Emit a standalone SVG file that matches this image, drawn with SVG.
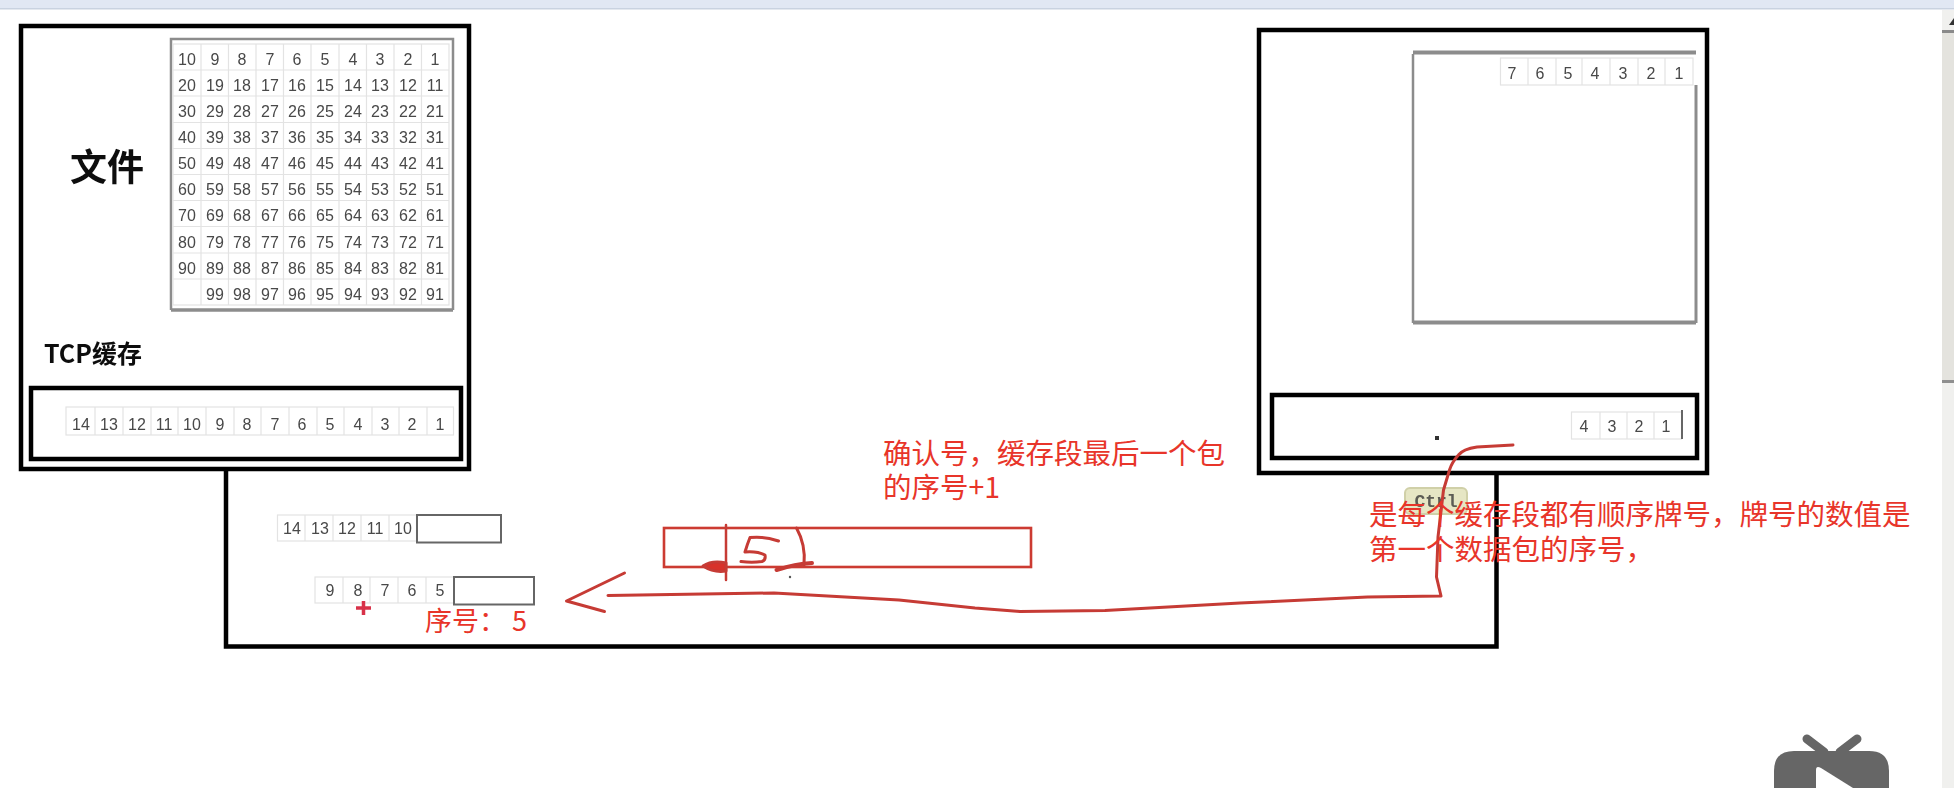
<svg xmlns="http://www.w3.org/2000/svg" width="1954" height="788" viewBox="0 0 1954 788">
<defs>
<filter id="soft" x="-5%" y="-5%" width="110%" height="110%"><feGaussianBlur stdDeviation="0.55"/></filter>
</defs>
<style>
.frame{fill:none;stroke:#000;stroke-width:4.5}
.cell{fill:#fff;stroke:#e3e3e3;stroke-width:1.2}
.rule{fill:none;stroke:#e3e3e3;stroke-width:1.2}
.tb{fill:none;stroke:#8c8c8c}
.num{font-family:"Liberation Sans",sans-serif;font-size:16px;fill:#484848;text-anchor:middle}
.box{fill:#fff;stroke:#666;stroke-width:2}
.note{font-family:"Noto Sans CJK SC","Liberation Sans",sans-serif;font-size:28.5px;fill:#e8352a}
.title{font-family:"Noto Sans CJK SC","Liberation Sans",sans-serif;font-weight:700;fill:#111}
.ink{fill:none;stroke:#c63a34;stroke-width:3;stroke-linecap:round;stroke-linejoin:round}
</style>
<rect width="1954" height="788" fill="#fff"/>
<rect id="browser-bar" width="1954" height="8" fill="#e1e7f3"/>
<rect x="0" y="8" width="1954" height="1.500" fill="#c9d2e0"/>
<g id="scrollbar" filter="url(#soft)">
<rect x="1942" y="10" width="12" height="778" fill="#f0f0ee"/>
<rect x="1942" y="33" width="12" height="349" fill="#e4e3de"/>
<rect x="1942" y="30" width="12" height="3" fill="#8a8a8a"/>
<rect x="1942" y="380" width="12" height="3" fill="#8f8f8f"/>
<path d="M1954 18L1949 25H1954Z" fill="#333"/>
</g>
<g id="connector-frame" filter="url(#soft)">
<path class="frame" d="M226 469V646.500H1496.500V473"/>
</g>
<g id="file-sender" filter="url(#soft)">
<rect class="frame" x="21" y="26" width="448" height="443"/>
<text class="title" x="70" y="181" font-size="37">文件</text>
<text class="title" x="44" y="363" font-size="25">TCP缓存</text>
<rect class="frame" x="31" y="388" width="430" height="71"/>
<path class="tb" stroke-width="2.500" d="M171 310V39H453V310"/>
<path class="tb" stroke-width="3.500" d="M171 310H453"/>
<g id="file-table">
<rect class="cell" x="173" y="44" width="276" height="261"/>
<path class="rule" d="M201 44V305M228.500 44V305M256 44V305M283.500 44V305M311 44V305M339 44V305M366.500 44V305M394 44V305M421.500 44V305M173 70H449M173 96H449M173 122.500H449M173 148.500H449M173 174.500H449M173 200.500H449M173 226.500H449M173 253H449M173 279H449"/>
<text class="num" x="187" y="65">10</text><text class="num" x="215" y="65">9</text><text class="num" x="242" y="65">8</text><text class="num" x="270" y="65">7</text><text class="num" x="297" y="65">6</text><text class="num" x="325" y="65">5</text><text class="num" x="353" y="65">4</text><text class="num" x="380" y="65">3</text><text class="num" x="408" y="65">2</text><text class="num" x="435" y="65">1</text>
<text class="num" x="187" y="91">20</text><text class="num" x="215" y="91">19</text><text class="num" x="242" y="91">18</text><text class="num" x="270" y="91">17</text><text class="num" x="297" y="91">16</text><text class="num" x="325" y="91">15</text><text class="num" x="353" y="91">14</text><text class="num" x="380" y="91">13</text><text class="num" x="408" y="91">12</text><text class="num" x="435" y="91">11</text>
<text class="num" x="187" y="117">30</text><text class="num" x="215" y="117">29</text><text class="num" x="242" y="117">28</text><text class="num" x="270" y="117">27</text><text class="num" x="297" y="117">26</text><text class="num" x="325" y="117">25</text><text class="num" x="353" y="117">24</text><text class="num" x="380" y="117">23</text><text class="num" x="408" y="117">22</text><text class="num" x="435" y="117">21</text>
<text class="num" x="187" y="143">40</text><text class="num" x="215" y="143">39</text><text class="num" x="242" y="143">38</text><text class="num" x="270" y="143">37</text><text class="num" x="297" y="143">36</text><text class="num" x="325" y="143">35</text><text class="num" x="353" y="143">34</text><text class="num" x="380" y="143">33</text><text class="num" x="408" y="143">32</text><text class="num" x="435" y="143">31</text>
<text class="num" x="187" y="169">50</text><text class="num" x="215" y="169">49</text><text class="num" x="242" y="169">48</text><text class="num" x="270" y="169">47</text><text class="num" x="297" y="169">46</text><text class="num" x="325" y="169">45</text><text class="num" x="353" y="169">44</text><text class="num" x="380" y="169">43</text><text class="num" x="408" y="169">42</text><text class="num" x="435" y="169">41</text>
<text class="num" x="187" y="195">60</text><text class="num" x="215" y="195">59</text><text class="num" x="242" y="195">58</text><text class="num" x="270" y="195">57</text><text class="num" x="297" y="195">56</text><text class="num" x="325" y="195">55</text><text class="num" x="353" y="195">54</text><text class="num" x="380" y="195">53</text><text class="num" x="408" y="195">52</text><text class="num" x="435" y="195">51</text>
<text class="num" x="187" y="221">70</text><text class="num" x="215" y="221">69</text><text class="num" x="242" y="221">68</text><text class="num" x="270" y="221">67</text><text class="num" x="297" y="221">66</text><text class="num" x="325" y="221">65</text><text class="num" x="353" y="221">64</text><text class="num" x="380" y="221">63</text><text class="num" x="408" y="221">62</text><text class="num" x="435" y="221">61</text>
<text class="num" x="187" y="248">80</text><text class="num" x="215" y="248">79</text><text class="num" x="242" y="248">78</text><text class="num" x="270" y="248">77</text><text class="num" x="297" y="248">76</text><text class="num" x="325" y="248">75</text><text class="num" x="353" y="248">74</text><text class="num" x="380" y="248">73</text><text class="num" x="408" y="248">72</text><text class="num" x="435" y="248">71</text>
<text class="num" x="187" y="274">90</text><text class="num" x="215" y="274">89</text><text class="num" x="242" y="274">88</text><text class="num" x="270" y="274">87</text><text class="num" x="297" y="274">86</text><text class="num" x="325" y="274">85</text><text class="num" x="353" y="274">84</text><text class="num" x="380" y="274">83</text><text class="num" x="408" y="274">82</text><text class="num" x="435" y="274">81</text>
<text class="num" x="215" y="300">99</text><text class="num" x="242" y="300">98</text><text class="num" x="270" y="300">97</text><text class="num" x="297" y="300">96</text><text class="num" x="325" y="300">95</text><text class="num" x="353" y="300">94</text><text class="num" x="380" y="300">93</text><text class="num" x="408" y="300">92</text><text class="num" x="435" y="300">91</text>
</g>
<g id="send-buffer">
<rect class="cell" x="66" y="407" width="387.500" height="28"/>
<path class="rule" d="M95 407V435M123 407V435M151 407V435M178 407V435M206 407V435M234 407V435M261 407V435M289 407V435M317 407V435M344 407V435M372 407V435M399 407V435M427 407V435"/>
<text class="num" x="81" y="430">14</text><text class="num" x="109" y="430">13</text><text class="num" x="137" y="430">12</text><text class="num" x="164" y="430">11</text><text class="num" x="192" y="430">10</text><text class="num" x="220" y="430">9</text><text class="num" x="247" y="430">8</text><text class="num" x="275" y="430">7</text><text class="num" x="302" y="430">6</text><text class="num" x="330" y="430">5</text><text class="num" x="358" y="430">4</text><text class="num" x="385" y="430">3</text><text class="num" x="412" y="430">2</text><text class="num" x="440" y="430">1</text>
</g>
</g>
<g id="segment-a" filter="url(#soft)">
<rect class="cell" x="277.500" y="515" width="139" height="26"/>
<path class="rule" d="M305 515V541M333 515V541M361 515V541M389 515V541"/>
<text class="num" x="292" y="534">14</text><text class="num" x="320" y="534">13</text><text class="num" x="347" y="534">12</text><text class="num" x="375" y="534">11</text><text class="num" x="403" y="534">10</text>
<rect class="box" x="417" y="515" width="84" height="27.500"/>
</g>
<g id="segment-b">
<g filter="url(#soft)">
<rect class="cell" x="315" y="577" width="139" height="26"/>
<path class="rule" d="M343 577V603M370 577V603M398 577V603M426 577V603"/>
<text class="num" x="330" y="596">9</text><text class="num" x="358" y="596">8</text><text class="num" x="385" y="596">7</text><text class="num" x="412" y="596">6</text><text class="num" x="440" y="596">5</text>
<rect class="box" x="454" y="577" width="80" height="27.500"/>
</g>
<text class="note" x="425" y="631" style="font-size:27px">序号： 5</text>
</g>
<g id="file-receiver" filter="url(#soft)">
<rect class="frame" x="1259" y="30" width="448" height="443"/>
<path class="tb" stroke-width="2.500" d="M1413 323V54"/>
<path class="tb" stroke-width="4" d="M1413 52.500H1696M1413 322.500H1696"/>
<path class="tb" stroke-width="3" d="M1696 85V323"/>
<rect class="cell" x="1500.500" y="58" width="192.500" height="27"/>
<path class="rule" d="M1528 58V85M1556 58V85M1582 58V85M1610 58V85M1638 58V85M1665 58V85"/>
<text class="num" x="1512" y="79">7</text><text class="num" x="1540" y="79">6</text><text class="num" x="1568" y="79">5</text><text class="num" x="1595" y="79">4</text><text class="num" x="1623" y="79">3</text><text class="num" x="1651" y="79">2</text><text class="num" x="1679" y="79">1</text>
<rect class="frame" x="1272" y="395" width="425" height="63"/>
<rect class="cell" x="1571.500" y="412" width="110" height="27"/>
<path class="rule" d="M1600 412V439M1627 412V439M1654 412V439"/>
<path d="M1682 410V439" stroke="#666" stroke-width="2"/>
<text class="num" x="1584" y="432">4</text><text class="num" x="1612" y="432">3</text><text class="num" x="1639" y="432">2</text><text class="num" x="1666" y="432">1</text>
<rect x="1435" y="436" width="4" height="4" fill="#333"/>
</g>
<g id="ctrl-hint" filter="url(#soft)">
<rect x="1405" y="488" width="62" height="26" rx="5" fill="#e6e6c4" stroke="#d0d0a8" stroke-width="2"/>
<text x="1436" y="507" font-family="Liberation Mono, monospace" font-size="18" font-weight="700" fill="#5c5c54" text-anchor="middle">Ctrl</text>
</g>
<g id="ack-field" filter="url(#soft)">
<rect x="664" y="528" width="367" height="39" fill="none" stroke="#cc3a33" stroke-width="2.600"/>
</g>
<g id="connectors" filter="url(#soft)">
<path class="ink" d="M726 525V580" style="stroke-width:2.500"/>
<path class="ink" d="M703 566Q712 560 726 563V571Q714 573 703 566Z" style="fill:#d8302a"/>
<path class="ink" d="M796.500 528Q806 545 804 565"/>
<path class="ink" d="M776.500 570Q795 564 812 563" style="stroke-width:4"/>
<path class="ink" d="M778.500 541Q765 536 750 537.500Q747 545 745 552Q757 551 765 555Q766 560 762 561.500Q752 563 741 561.500"/>
<circle cx="790" cy="577" r="1.200" fill="#555"/>
<path class="ink" d="M1513 445L1477 447Q1463 449 1458.500 455Q1452 462 1449.500 470L1443.500 490L1438 537L1436.500 577L1441 596L1367.500 597L1240 603L1105 610.500L1020 611.500L975 608L899 600L774 593L608 595.500"/>
<path class="ink" d="M624.500 573L566.500 601L604.500 611.500"/>
<path d="M356 608H371M363.500 601V615" stroke="#d8314a" stroke-width="3.500" fill="none"/>
</g>
<g id="notes">
<text class="note" x="883" y="464">确认号，缓存段最后一个包</text>
<text class="note" x="883" y="498">的序号+1</text>
<text class="note" x="1369" y="525">是每个缓存段都有顺序牌号，牌号的数值是</text>
<text class="note" x="1369" y="560">第一个数据包的序号，</text>
</g>
<g id="tv-icon">
<path d="M1807 739L1824 752M1857 739L1840 752" stroke="#666" stroke-width="9" stroke-linecap="round" fill="none"/>
<path d="M1794 751H1869Q1889 751 1889 771V788H1774V771Q1774 751 1794 751Z" fill="#666"/>
<path d="M1816 770Q1816 765 1821 768L1853 788H1816Z" fill="#fff"/>
</g>
</svg>
